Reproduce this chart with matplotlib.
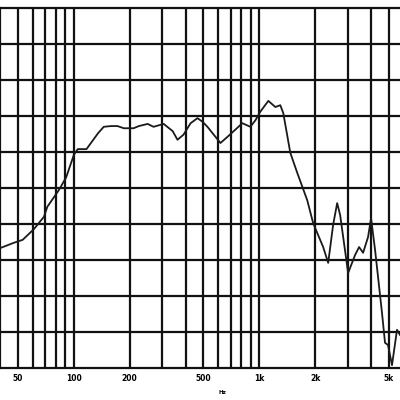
import matplotlib.pyplot as plt
from matplotlib.ticker import FixedLocator, NullLocator

# frequency response (Hz, dB)
freq = [40.5, 47.6, 53, 61, 69, 72, 83, 91, 100, 105, 117, 135, 145, 158, 172, 186,
        210, 224, 250, 269, 305, 341, 362, 390, 426, 464, 494, 525, 617, 673, 810,
        894, 952, 1012, 1118, 1219, 1297, 1346, 1468, 1601, 1812, 1951, 2208, 2350,
        2499, 2627, 2726, 3010, 3282, 3449, 3624, 3855, 4001, 4205, 4585, 4758,
        4937, 5189, 5520, 5728]
level = [66.7, 67.4, 67.8, 69.3, 71.0, 72.4, 74.7, 76.5, 79.6, 80.4, 80.4, 82.6, 83.5,
         83.6, 83.6, 83.3, 83.3, 83.6, 83.9, 83.5, 83.9, 82.9, 81.7, 82.4, 84.0, 84.7,
         84.2, 83.5, 81.25, 82.1, 84.0, 83.5, 84.4, 85.6, 87.1, 86.25, 86.5, 85.4,
         79.9, 77.1, 73.3, 70.1, 66.8, 64.6, 69.9, 72.9, 71.25, 63.2, 65.7, 66.8,
         66.0, 68.2, 70.8, 66.4, 57.6, 53.5, 53.2, 50.4, 55.3, 54.6]

grid_freqs = [50, 60, 70, 80, 90, 100, 200, 300, 400, 500, 600, 700, 800, 900,
              1000, 2000, 3000, 4000, 5000]
label_freqs = [50, 100, 200, 500, 1000, 2000, 5000]
label_text = ["50", "100", "200", "500", "1k", "2k", "5k"]
db_lines = [55, 60, 65, 70, 75, 80, 85, 90, 95]

fig = plt.figure(figsize=(4, 4), dpi=100)
ax = fig.add_axes([0, 0.08, 1.0, 0.90])

ax.set_xscale("log")
ax.set_xlim(40, 5730)
ax.set_ylim(50, 100)

for f in grid_freqs:
    ax.axvline(f, color="#111111", lw=1.6, zorder=1)
for d in db_lines:
    ax.axhline(d, color="#111111", lw=1.6, zorder=1)

ax.plot(freq, level, color="#1a1a1a", lw=1.3, zorder=3)

ax.xaxis.set_major_locator(FixedLocator(label_freqs))
ax.xaxis.set_minor_locator(NullLocator())
ax.set_xticklabels(label_text, fontsize=5.5, fontweight="bold")
ax.tick_params(axis="x", length=0, pad=4.5)
ax.set_yticks([])

ax.spines["right"].set_visible(False)
for side in ["left", "top", "bottom"]:
    ax.spines[side].set_linewidth(1.6)
    ax.spines[side].set_color("#111111")

ax.text(632, -0.067, "Hz", transform=ax.get_xaxis_transform(),
        fontsize=4, fontweight="bold", ha="center", va="center")

fig.savefig("out.png", dpi=100)
